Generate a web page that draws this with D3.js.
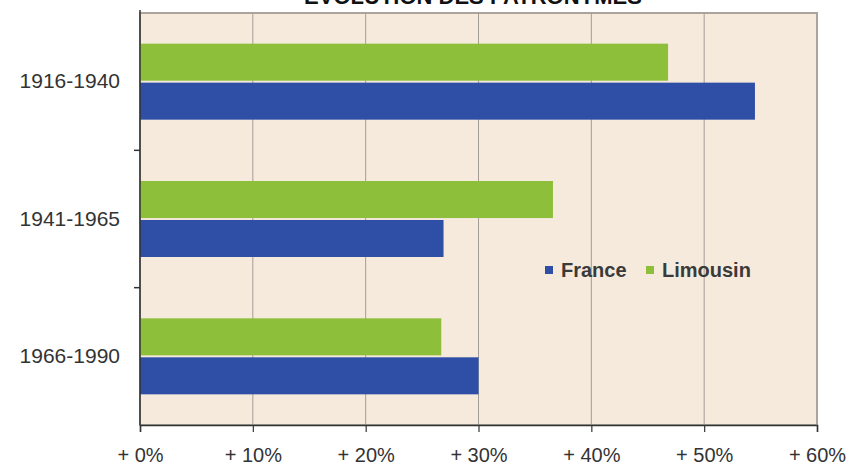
<!DOCTYPE html>
<meta charset="utf-8"/>
<style>
  body { margin: 0; background: #fff; }
  text { font-family: "Liberation Sans", Arial, sans-serif; }
</style>
<svg width="852" height="467"></svg>
<script src="https://d3js.org/d3.v7.min.js"></script>
<script>

var categories = ["1916-1940", "1941-1965", "1966-1990"];
var series = ["Limousin", "France"];
var limousin = [46.8, 36.6, 26.7];
var france = [54.5, 26.9, 30.0];
var xTicks = [0, 10, 20, 30, 40, 50, 60];
var colors = {France: "#2f4ea6", Limousin: "#8dbf3b"};

var svg = d3.select("svg"),
    plot = {left: 140, right: 817, top: 13, bottom: 425};

var data = categories.map(function(c, i) {
  return {cat: c, France: france[i], Limousin: limousin[i]};
});

var x = d3.scaleLinear().domain([0, 60]).range([plot.left, plot.right]);

var y = d3.scaleBand().domain(categories).range([plot.top, plot.bottom]);

var mid = y.bandwidth() / 2;
var y1 = d3.scaleBand().domain(series).range([mid - 38, mid + 38]).paddingInner(0.05);

// background
svg.append("rect")
    .attr("x", plot.left).attr("y", plot.top)
    .attr("width", plot.right - plot.left).attr("height", plot.bottom - plot.top)
    .attr("fill", "#f6eadc")
    .attr("stroke", "#aaa49d")
    .attr("stroke-width", 2);

// grid
svg.append("g").selectAll("line")
    .data(xTicks.slice(1, -1))
    .enter().append("line")
      .attr("x1", function(d) { return x(d); })
      .attr("x2", function(d) { return x(d); })
      .attr("y1", plot.top).attr("y2", plot.bottom)
      .attr("stroke", "#a39d96")
      .attr("stroke-width", 1);

// bars
var groups = svg.append("g").selectAll("g")
    .data(data)
    .enter().append("g")
      .attr("transform", function(d) { return "translate(0," + y(d.cat) + ")"; });

groups.selectAll("rect")
    .data(function(d) { return series.map(function(s) { return {key: s, value: d[s]}; }); })
    .enter().append("rect")
      .attr("x", x(0))
      .attr("y", function(d) { return y1(d.key); })
      .attr("height", y1.bandwidth())
      .attr("width", function(d) { return x(d.value) - x(0); })
      .attr("fill", function(d) { return colors[d.key]; });

// x axis
var xAxis = svg.append("g")
    .attr("transform", "translate(0," + plot.bottom + ")")
    .call(d3.axisBottom(x).tickValues(xTicks).tickSize(7).tickPadding(16)
      .tickFormat(function(d) { return "+ " + d + "%"; }));
xAxis.select(".domain").attr("stroke", "#333").attr("stroke-width", 1.5);
xAxis.selectAll(".tick line").attr("stroke", "#333").attr("stroke-width", 1.2);
xAxis.selectAll("text").attr("fill", "#333").style("font-size", "20px");

// y axis
var yAxis = svg.append("g")
    .attr("transform", "translate(" + plot.left + ",0)")
    .call(d3.axisLeft(y).tickSize(0).tickPadding(20));
yAxis.select(".domain").remove();
yAxis.selectAll("text").attr("fill", "#333").style("font-size", "21px");

svg.append("line")
    .attr("x1", plot.left).attr("x2", plot.left)
    .attr("y1", plot.top - 3).attr("y2", plot.bottom)
    .attr("stroke", "#333").attr("stroke-width", 1.5);

svg.append("g").selectAll("line")
    .data(categories.slice(1))
    .enter().append("line")
      .attr("x1", plot.left - 6).attr("x2", plot.left)
      .attr("y1", function(d) { return y(d); })
      .attr("y2", function(d) { return y(d); })
      .attr("stroke", "#333").attr("stroke-width", 1.5);

// legend
var legend = svg.append("g").attr("transform", "translate(545,270)");
var legendItems = [{key: "France", x: 0}, {key: "Limousin", x: 101}];
legendItems.forEach(function(l) {
  legend.append("rect")
      .attr("x", l.x).attr("y", -4).attr("width", 8).attr("height", 8)
      .attr("fill", colors[l.key]);
  legend.append("text")
      .attr("x", l.x + 16).attr("y", 7)
      .attr("fill", "#3a3a3a")
      .style("font-size", "20px")
      .style("font-weight", "bold")
      .text(l.key);
});

// title
svg.append("text")
    .attr("x", 473).attr("y", 4)
    .attr("text-anchor", "middle")
    .attr("fill", "#111")
    .style("font-size", "22px")
    .style("font-weight", "bold")
    .text("ÉVOLUTION DES PATRONYMES");

</script>
